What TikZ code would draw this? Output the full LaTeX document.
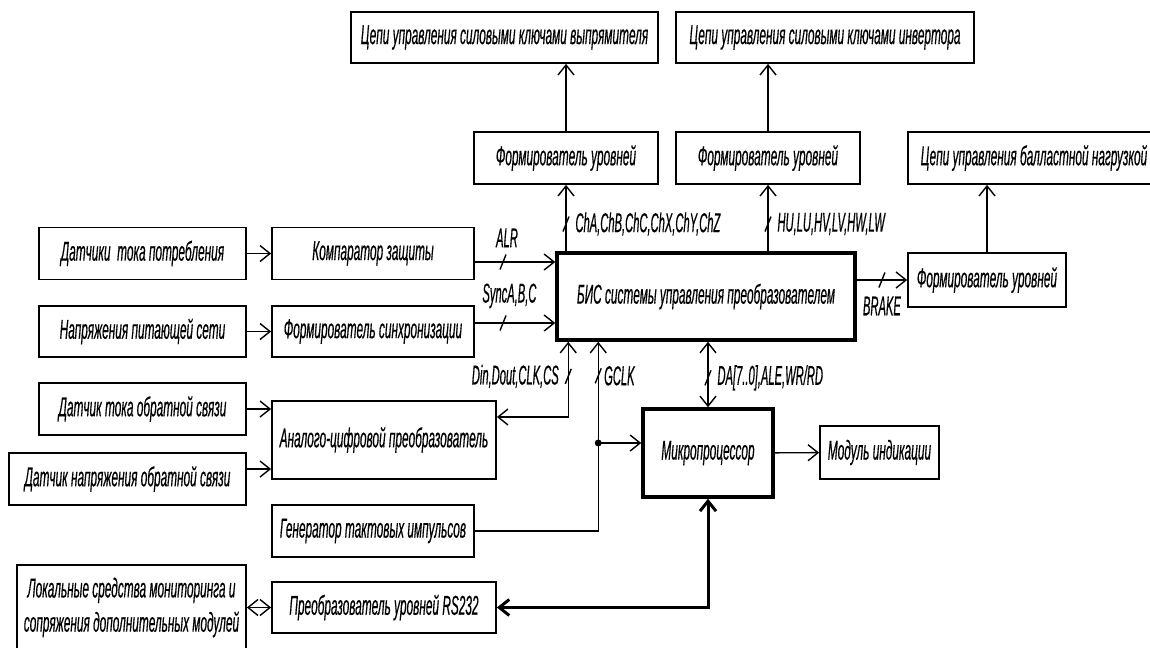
\documentclass[tikz,border=0pt]{standalone}
\usepackage{fontspec}
\newfontfamily\gostfont{Liberation Sans}[FakeStretch=0.435, FakeBold=0.4]
\newfontfamily\gostsig{Liberation Sans}[FakeStretch=0.41, FakeBold=0.4]
\usetikzlibrary{
  arrows.meta,
  positioning,
  calc
}

\begin{document}
\begin{tikzpicture}[
  blok/.style={
    rectangle,
    draw=black,
    line width=1pt,
    minimum width=#1,
    minimum height=1.04cm,
    inner sep=2pt,
    align=center,
    font=\gostfont\itshape\fontsize{15.5}{17}\selectfont,
  },
  blok/.default=4.04cm,
  bigblok/.style={
    blok=#1,
    line width=2pt,
  },
  arrow/.style={-{Straight Barb[length=0.2cm, width=0.32cm]}, line width=0.8pt},
  dblarrow/.style={{Straight Barb[length=0.2cm, width=0.32cm]}-{Straight Barb[length=0.2cm, width=0.32cm]}, line width=0.8pt},
  busmark/.style={line width=0.8pt},
  siglabel/.style={
    font=\gostsig\itshape\fontsize{15.5}{17}\selectfont,
    inner sep=1pt,
  },
]
\useasboundingbox (0,0) rectangle (23,-12.96);

% ── Верхний ряд ──
\node[blok=6.14cm, minimum height=1.02cm] (vyp) at (10.09, -0.75) {Цепи управления силовыми ключами выпрямителя};
\node[blok=5.96cm, minimum height=1.02cm] (inv) at (16.5, -0.75) {Цепи управления силовыми ключами инвертора};

% ── Формирователи уровней ──
\node[blok=3.68cm] (urv1) at (11.32, -3.16) {Формирователь уровней};
\node[blok=3.68cm] (urv2) at (15.36, -3.16) {Формирователь уровней};
\node[blok=5.04cm] (ballast) at (20.68, -3.16) {Цепи управления балластной нагрузкой};

% ── БИС ──
\node[bigblok=5.96cm, minimum height=1.74cm] (bis) at (14.12, -5.93) {БИС системы управления преобразователем};
\node[blok=3.16cm, minimum height=1.08cm] (urv3) at (19.74, -5.6) {Формирователь уровней};

% ── Входы слева ──
\node[blok=4.14cm] (dtp) at (2.85, -5.07) {Датчики\ \ тока потребления};
\node[blok=4.04cm] (komp) at (7.46, -5.07) {Компаратор защиты};
\node[blok=4.14cm, minimum height=1.02cm] (nps) at (2.85, -6.63) {Напряжения питающей сети};
\node[blok=4.04cm, minimum height=1.02cm] (fsync) at (7.46, -6.63) {Формирователь синхронизации};
\node[blok=4.14cm] (dtos) at (2.85, -8.18) {Датчик тока обратной связи};
\node[blok=4.48cm, minimum height=1.56cm] (acp) at (7.68, -8.8) {Аналого-цифровой преобразователь};
\node[blok=4.74cm] (dnos) at (2.55, -9.58) {Датчик напряжения обратной связи};
\node[blok=4.04cm] (gen) at (7.46, -10.62) {Генератор тактовых импульсов};

% ── Нижний ряд ──
\node[blok=4.58cm, minimum height=1.7cm, font=\gostfont\itshape\fontsize{15.5}{19.5}\selectfont] (lokal) at (2.63, -12.15) {Локальные средства мониторинга и\\сопряжения дополнительных модулей};
\node[blok=4.48cm, minimum height=1.02cm] (rs) at (7.68, -12.15) {Преобразователь уровней RS232};

% ── Микропроцессор ──
\node[bigblok=2.6cm, minimum height=1.76cm] (mp) at (14.16, -9.06) {Микропроцессор};
\node[blok=2.38cm, minimum height=1.06cm] (ind) at (17.59, -9.05) {Модуль индикации};

% ── Связи вверх ──
\draw[arrow] (urv1.north) -- (urv1.north |- vyp.south);
\draw[arrow] (urv2.north) -- (urv2.north |- inv.south);
\draw[arrow] (urv3.north) -- (urv3.north |- ballast.south);
\draw[arrow] (bis.north -| urv1.south) -- coordinate[pos=0.41] (mCh) node[siglabel, pos=0.41, right=4pt] {ChA,ChB,ChC,ChX,ChY,ChZ} (urv1.south);
\draw[arrow] (bis.north -| urv2.south) -- coordinate[pos=0.41] (mHU) node[siglabel, pos=0.41, right=4pt] {HU,LU,HV,LV,HW,LW} (urv2.south);
\draw[arrow] (bis.east |- urv3.west) -- coordinate (mBR) node[siglabel, below=8pt] {BRAKE} (urv3.west);

% ── Связи слева ──
\draw[arrow] (dtp) -- (komp);
\draw[arrow] (nps) -- (fsync);
\draw[arrow] ([yshift=-0.17cm]komp.east) -- coordinate[pos=0.35] (mALR) node[siglabel, pos=0.4, above=7pt] {ALR} ([yshift=-0.17cm]komp.east -| bis.west);
\draw[arrow] ([yshift=0.17cm]fsync.east) -- coordinate[pos=0.35] (mSync) node[siglabel, pos=0.43, above=7pt] {SyncA,B,C} ([yshift=0.17cm]fsync.east -| bis.west);
\draw[arrow] (dtos.east) -- (dtos.east -| acp.west);
\draw[arrow] ([yshift=0.2cm]dnos.east) -- ([yshift=0.2cm]dnos.east -| acp.west);

% ── АЦП, тактовый генератор, шина ──
\coordinate (din) at ($(bis.south west)+(0.26,0)$);
\draw[dblarrow] ([yshift=0.46cm]acp.east) -| coordinate[pos=0.77] (mDin) node[siglabel, pos=0.77, left=4pt] {Din,Dout,CLK,CS} (din);

\coordinate (gclk) at ($(bis.south west)+(0.86,0)$);
\draw[arrow] (gen.east) -| coordinate[pos=0.91] (mGC) node[siglabel, pos=0.91, right=2pt] {GCLK} (gclk);
\coordinate (uzel) at ([yshift=0.2cm]mp.west -| gclk);
\fill (uzel) circle (0.07cm);
\draw[arrow] (uzel) -- ([yshift=0.2cm]mp.west);

\draw[dblarrow] (mp.north) -- coordinate[pos=0.45] (mDA) node[siglabel, pos=0.45, right=4pt] {DA[7..0],ALE,WR/RD} (mp.north |- bis.south);
\draw[arrow] (mp) -- (ind);

% ── RS232 ──
\draw[dblarrow, line width=1.7pt] (rs.east) -| (mp.south);
\draw[dblarrow] (lokal.east |- rs.west) -- (rs.west);

% ── Отметки шин ──
\foreach \m in {mCh, mHU, mBR, mALR, mSync, mDin, mGC, mDA}
  \draw[busmark] ([shift={(-0.06,-0.15)}]\m) -- ([shift={(0.06,0.15)}]\m);

\end{tikzpicture}
\end{document}
